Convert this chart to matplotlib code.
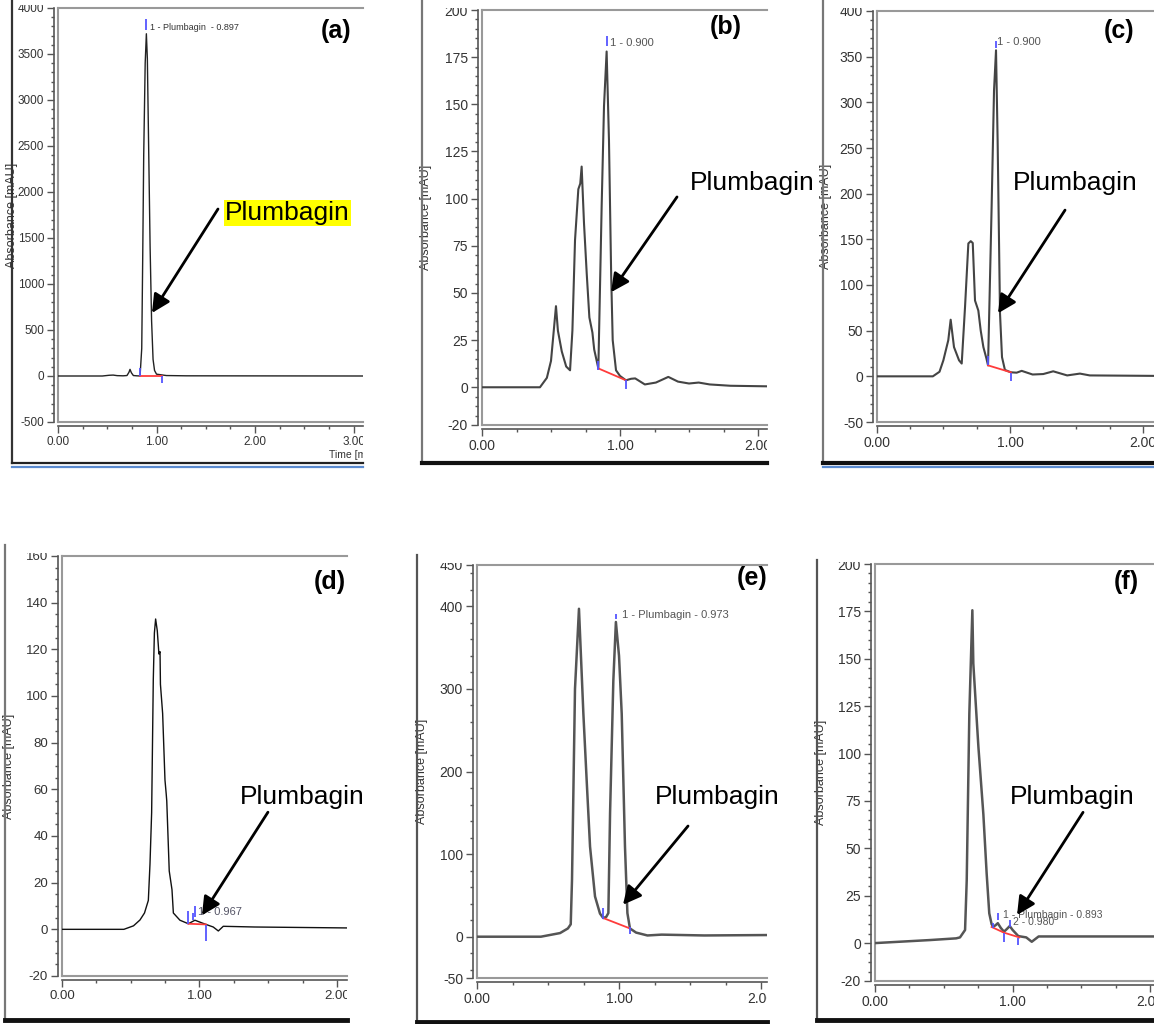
import matplotlib.pyplot as plt
from matplotlib.lines import Line2D
from matplotlib.ticker import MultipleLocator
from matplotlib.transforms import Bbox, TransformedBbox

plt.rcParams['font.family'] = ['Liberation Sans', 'DejaVu Sans']

W, H = 1154, 1024

# chromatogram traces (time in min, absorbance in mAU)
time_a = [0.00, 0.45, 0.52, 0.56, 0.60, 0.66, 0.70, 0.72, 0.731, 0.745, 0.765, 0.80, 0.833,
          0.85, 0.86, 0.87, 0.885, 0.897, 0.907, 0.92, 0.935, 0.95, 0.965, 0.98, 1.00, 1.10, 1.30, 3.10]
abs_a = [0, 0, 8, 10, 4, 2, 5, 40, 72, 35, 5, 2, 0,
         300, 1300, 2400, 3400, 3720, 3450, 2500, 1400, 600, 180, 60, 20, 5, 2, 0]

time_b = [0.00, 0.42, 0.47, 0.50, 0.52, 0.536, 0.55, 0.578, 0.61, 0.638, 0.655, 0.674, 0.698,
          0.712, 0.722, 0.739, 0.759, 0.778, 0.80, 0.813, 0.843, 0.867, 0.884, 0.903, 0.92, 0.936,
          0.947, 0.971, 1.00, 1.043, 1.08, 1.11, 1.18, 1.26, 1.35, 1.42, 1.50, 1.57, 1.65, 1.80, 2.07]
abs_b = [0, 0, 5, 14, 30, 43, 30, 19, 11, 9, 30, 78, 105,
         108, 117, 87, 60, 37, 29, 20, 10, 96, 149, 178, 131, 59,
         25, 9, 6, 3.7, 4.5, 4.7, 1.5, 2.5, 5.5, 3, 2, 2.5, 1.5, 0.8, 0.5]

time_c = [0.00, 0.42, 0.47, 0.499, 0.536, 0.554, 0.579, 0.617, 0.637, 0.662, 0.687, 0.705, 0.72,
          0.737, 0.762, 0.78, 0.80, 0.822, 0.835, 0.862, 0.88, 0.895, 0.907, 0.925, 0.94, 0.962,
          1.007, 1.05, 1.088, 1.17, 1.25, 1.325, 1.43, 1.526, 1.60, 2.08]
abs_c = [0, 0, 5, 17.5, 39.5, 62, 32, 17.5, 14, 76, 145.5, 148, 146,
         83, 72, 50, 32, 20, 12, 186, 313, 357, 259, 69, 21, 7,
         4.4, 4, 6, 2, 2.5, 5.5, 1, 3, 1, 0.5]

time_d = [0.00, 0.45, 0.52, 0.567, 0.60, 0.628, 0.64, 0.652, 0.664, 0.672, 0.681, 0.693, 0.705,
          0.713, 0.716, 0.732, 0.749, 0.758, 0.762, 0.78, 0.795, 0.80, 0.81, 0.858, 0.919, 0.967,
          1.047, 1.10, 1.137, 1.173, 1.40, 2.07]
abs_d = [0, 0, 1.5, 4, 7, 12.4, 28, 50, 107, 127, 133, 128, 118,
         119, 105, 92.5, 64, 58, 55, 25, 19, 17, 7, 3.9, 2.4, 3.9,
         2.1, 1.0, -0.7, 1.3, 1.0, 0.6]

time_e = [0.00, 0.45, 0.585, 0.64, 0.66, 0.669, 0.69, 0.718, 0.749, 0.772, 0.796, 0.831, 0.866,
          0.889, 0.91, 0.925, 0.937, 0.96, 0.978, 1.00, 1.019, 1.042, 1.059, 1.077, 1.12, 1.20,
          1.30, 1.60, 2.04]
abs_e = [0, 0, 4.4, 10, 15, 69, 300, 397, 270, 190, 109, 48.7, 28,
         22.6, 24, 28.6, 150, 310, 381, 340, 270, 109, 28.6, 10, 5, 1.5,
         2.5, 1.5, 2]

time_f = [0.00, 0.40, 0.59, 0.618, 0.655, 0.667, 0.686, 0.708, 0.715, 0.74, 0.752, 0.788, 0.812,
          0.831, 0.848, 0.86, 0.878, 0.893, 0.915, 0.938, 0.96, 0.98, 1.00, 1.042, 1.10, 1.14,
          1.19, 1.40, 2.03]
abs_f = [0, 1.6, 2.5, 3, 6.9, 33, 121, 175.6, 147.5, 117.6, 103.5, 68, 36.7,
         15.7, 10, 8.6, 9.5, 10.5, 8, 6, 7.5, 9, 7, 3.7, 3, 0.7,
         3.5, 3.5, 3.5]

# integration baselines (red) and peak delimiters (blue)
base_a_t, base_a_y = [0.833, 1.053], [0, 0]
base_b_t, base_b_y = [0.843, 1.043], [10, 3.7]
base_c_t, base_c_y = [0.835, 1.007], [12, 4.4]
base_d_t, base_d_y = [0.919, 1.047], [2.4, 2.1]
base_e_t, base_e_y = [0.889, 1.077], [22.6, 10]
base_f_t, base_f_y = [0.848, 0.938, 1.05], [8.5, 5.5, 3]

cut_a_t, cut_a_lo, cut_a_hi = [0.833, 0.897, 1.053], [0, 3760, -80], [85, 3880, 0]
cut_b_t, cut_b_lo, cut_b_hi = [0.843, 0.903, 1.043], [9, 181, -1], [14, 186, 3.7]
cut_c_t, cut_c_lo, cut_c_hi = [0.835, 0.895, 1.007], [12, 360, -5], [22, 367, 4]
cut_d_t, cut_d_lo, cut_d_hi = [0.919, 0.95, 0.967, 1.047], [2.4, 3.9, 5.5, -5], [8, 7, 10, 2]
cut_e_t, cut_e_lo, cut_e_hi = [0.889, 0.978, 1.077], [22, 385, 3], [35, 391, 12]
cut_f_t = [0.86, 0.893, 0.938, 0.98, 1.042]
cut_f_lo = [7.7, 12.1, 0.7, 8.6, -1]
cut_f_hi = [10.4, 15.7, 5.1, 12.1, 2.5]

fig = plt.figure(figsize=(W / 100, H / 100), dpi=100)


def fx(x):
    return x / W


def fy(y):
    return 1 - y / H


def crop(l, t, r, b):
    return TransformedBbox(Bbox.from_extents(fx(l), fy(b), fx(r), fy(t)), fig.transFigure)


def border(l, t, r, b, lcol, bcol, lw_b, blue=False):
    fig.add_artist(Line2D([fx(l), fx(l)], [fy(t), fy(b)], transform=fig.transFigure,
                          color=lcol, lw=1.6))
    fig.add_artist(Line2D([fx(l), fx(r)], [fy(b), fy(b)], transform=fig.transFigure,
                          color=bcol, lw=lw_b))
    if blue:
        fig.add_artist(Line2D([fx(l), fx(r)], [fy(b + 4), fy(b + 4)], transform=fig.transFigure,
                              color='#5b8bd0', lw=1.6))


def chrom(box, clip, xmax, ylim, yticks, yminor, xticks, size, lab_dx):
    l, t, r, b = box
    ax = fig.add_axes([fx(l), fy(b), (r - l) / W, (b - t) / H])
    ax.set_xlim(0, xmax)
    ax.set_ylim(*ylim)
    ax.set_xticks(xticks, ['%.2f' % v for v in xticks])
    ax.set_yticks(yticks, [str(v) for v in yticks])
    ax.xaxis.set_minor_locator(MultipleLocator(0.25))
    ax.yaxis.set_minor_locator(MultipleLocator(yminor))
    ax.tick_params(which='both', direction='out', color='#555', labelcolor='#333',
                   labelsize=size, width=1, pad=2)
    ax.tick_params(which='major', length=5)
    ax.tick_params(which='minor', length=2.5)
    ax.spines['right'].set_visible(False)
    for s in ['left', 'bottom']:
        ax.spines[s].set_position(('outward', 3))
        ax.spines[s].set_color('#555')
        ax.spines[s].set_linewidth(1.2)
    ax.spines['top'].set_color('#999')
    ax.spines['top'].set_linewidth(1.5)
    ax.plot([0, 0], [0, 1], transform=ax.transAxes, color='#999', lw=1.5, clip_on=False)
    ax.plot([0, 1], [0, 0], transform=ax.transAxes, color='#999', lw=1.5, clip_on=False)
    ax.set_ylabel('Absorbance [mAU]', fontsize=9, color='#333')
    ax.yaxis.set_label_coords(-lab_dx / (r - l), 0.5)
    cb = crop(*clip)
    for tl in ax.get_xticklabels() + ax.get_yticklabels():
        tl.set_clip_box(cb)
        tl.set_clip_on(True)
    ax.patch.set_alpha(0)
    return ax


def marks(ax, bt, by, ct, clo, chi):
    ax.plot(bt, by, color='#ff3b3b', lw=1.3, zorder=3)
    ax.vlines(ct, clo, chi, colors='#5555ff', lw=1.3, zorder=4)


def arrow(ax, tip, tail):
    ax.annotate('', xy=tip, xytext=tail, annotation_clip=False,
                arrowprops=dict(arrowstyle='-|>,head_length=0.5,head_width=0.25', color='black',
                                lw=2, shrinkA=0, shrinkB=0, mutation_scale=22))


def word(x, y, **kw):
    fig.text(fx(x), fy(y), 'Plumbagin', fontsize=19, ha='left', va='center', **kw)


def tag(x, y, s):
    fig.text(fx(x), fy(y), s, fontsize=18, fontweight='bold', ha='center', va='center')


# panel frames of the pasted screenshots
border(12, 0, 363, 463, '#333', '#222', 1.6, blue=True)
border(422, 0, 767, 463, '#777', '#111', 3)
border(823, 0, 1154, 463, '#777', '#111', 3, blue=True)
border(5, 545, 347, 1020, '#777', '#111', 3.5)
border(417, 555, 767, 1022, '#555', '#111', 3.5)
border(817, 560, 1154, 1020, '#555', '#111', 3.5)

# (a)
ax = chrom((58, 8, 363, 422), (12, 5, 363, 463), 3.096, (-500, 4000),
           list(range(-500, 4001, 500)), 100, [0, 1, 2, 3], 8.5, 40)
ax.plot(time_a, abs_a, color='#222', lw=1.0)
marks(ax, base_a_t, base_a_y, cut_a_t, cut_a_lo, cut_a_hi)
ax.text(0.934, 3793, '1 - Plumbagin  - 0.897', fontsize=6.5, color='#333', va='center')
arrow(ax, (0.954, 685), (1.624, 1815))
fig.text(fx(329), fy(455), 'Time [min]', fontsize=7.5, color='#333', va='center',
         clip_box=crop(12, 5, 363, 463), clip_on=True)
word(225, 213, bbox=dict(facecolor='#ffff00', edgecolor='none', pad=1))
tag(336, 31, '(a)')

# (b)
ax = chrom((482, 10, 767, 425), (422, 8, 767, 463), 2.065, (-20, 200),
           [-20] + list(range(0, 201, 25)), 5, [0, 1, 2], 10, 50)
ax.plot(time_b, abs_b, color='#444', lw=1.5)
marks(ax, base_b_t, base_b_y, cut_b_t, cut_b_lo, cut_b_hi)
ax.text(0.928, 182.7, '1 - 0.900', fontsize=8, color='#555', va='center')
arrow(ax, (0.935, 50.4), (1.413, 100.9))
word(690, 183)
tag(726, 27, '(b)')

# (c)
ax = chrom((877, 11, 1154, 422), (823, 8, 1154, 463), 2.083, (-50, 400),
           list(range(-50, 401, 50)), 10, [0, 1, 2], 10, 45)
ax.plot(time_c, abs_c, color='#444', lw=1.5)
marks(ax, base_c_t, base_c_y, cut_c_t, cut_c_lo, cut_c_hi)
ax.text(0.902, 366, '1 - 0.900', fontsize=8, color='#555', va='center')
arrow(ax, (0.91, 69), (1.414, 182))
word(1013, 183)
tag(1119, 31, '(c)')

# (d)
ax = chrom((62, 556, 347, 976), (5, 553, 347, 1020), 2.073, (-20, 160),
           list(range(-20, 161, 20)), 5, [0, 1, 2], 9.5, 47)
ax.plot(time_d, abs_d, color='#111', lw=1.0)
marks(ax, base_d_t, base_d_y, cut_d_t, cut_d_lo, cut_d_hi)
ax.text(0.99, 7.4, '1 - 0.967', fontsize=8, color='#556', va='center')
arrow(ax, (1.018, 6), (1.498, 50.2))
word(240, 797)
tag(330, 582, '(d)')

# (e)
ax = chrom((477, 565, 767, 978), (417, 563, 767, 1022), 2.042, (-50, 450),
           [-50, 0, 100, 200, 300, 400, 450], 20, [0, 1, 2], 10, 49)
ax.plot(time_e, abs_e, color='#555', lw=1.8)
marks(ax, base_e_t, base_e_y, cut_e_t, cut_e_lo, cut_e_hi)
ax.text(1.019, 389, '1 - Plumbagin - 0.973', fontsize=8, color='#555', va='center')
arrow(ax, (1.028, 38.7), (1.486, 134))
word(655, 797)
tag(752, 578, '(e)')

# (f)
ax = chrom((875, 564, 1154, 981), (817, 562, 1154, 1020), 2.029, (-20, 200),
           [-20] + list(range(0, 201, 25)), 5, [0, 1, 2], 10, 48)
ax.plot(time_f, abs_f, color='#555', lw=1.8)
marks(ax, base_f_t, base_f_y, cut_f_t, cut_f_lo, cut_f_hi)
ax.text(0.93, 14.8, '1 - Plumbagin - 0.893', fontsize=7.5, color='#555', va='center')
ax.text(1.0, 11, '2 - 0.980', fontsize=7.5, color='#555', va='center')
arrow(ax, (1.033, 14.8), (1.513, 69))
word(1010, 797)
tag(1126, 582, '(f)')

fig.savefig('out.png', dpi=100)
